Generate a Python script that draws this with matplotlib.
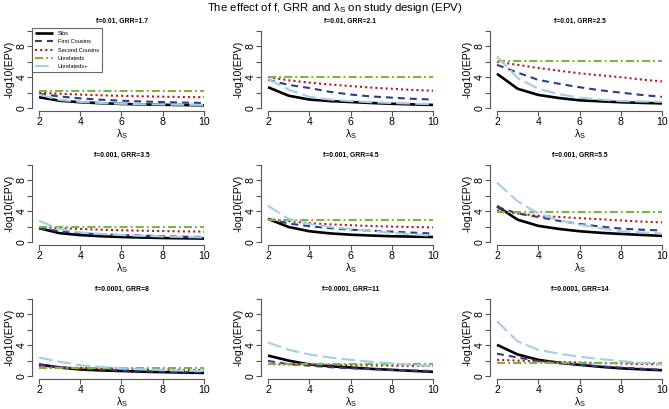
import numpy as np
import matplotlib
matplotlib.use('Agg')
import matplotlib.pyplot as plt

plt.rcParams['font.family'] = ['Liberation Sans', 'DejaVu Sans']
plt.rcParams['lines.scale_dashes'] = False
plt.rcParams['mathtext.fontset'] = 'custom'
plt.rcParams['mathtext.rm'] = 'Liberation Sans'
plt.rcParams['mathtext.it'] = 'Liberation Sans'

lam = [2, 3, 4, 5, 6, 7, 8, 9, 10]

titles = ['f=0.01, GRR=1.7', 'f=0.01, GRR=2.1', 'f=0.01, GRR=2.5',
          'f=0.001, GRR=3.5', 'f=0.001, GRR=4.5', 'f=0.001, GRR=5.5',
          'f=0.0001, GRR=8', 'f=0.0001, GRR=11', 'f=0.0001, GRR=14']

sibs = [
    [1.4, 0.95, 0.75, 0.62, 0.53, 0.47, 0.42, 0.38, 0.35],
    [2.7, 1.6, 1.1, 0.9, 0.78, 0.65, 0.55, 0.47, 0.4],
    [4.45, 2.5, 1.7, 1.3, 1.0, 0.87, 0.75, 0.67, 0.6],
    [1.8, 1.15, 0.9, 0.75, 0.65, 0.58, 0.52, 0.48, 0.45],
    [3.0, 1.95, 1.4, 1.12, 0.95, 0.84, 0.75, 0.7, 0.65],
    [4.65, 2.9, 2.1, 1.7, 1.4, 1.2, 1.05, 0.92, 0.8],
    [1.5, 1.1, 0.85, 0.73, 0.65, 0.56, 0.5, 0.45, 0.4],
    [2.65, 2.0, 1.5, 1.27, 1.1, 0.93, 0.8, 0.67, 0.55],
    [4.05, 2.8, 2.1, 1.72, 1.45, 1.2, 1.0, 0.87, 0.75],
]
first_cousins = [
    [1.85, 1.5, 1.25, 1.08, 0.95, 0.85, 0.77, 0.7, 0.65],
    [3.65, 3.0, 2.6, 2.1, 1.75, 1.5, 1.35, 1.2, 1.1],
    [5.6, 4.6, 3.65, 3.15, 2.7, 2.3, 2.0, 1.7, 1.45],
    [1.8, 1.4, 1.15, 1.0, 0.9, 0.83, 0.77, 0.7, 0.65],
    [3.0, 2.4, 2.05, 1.8, 1.6, 1.47, 1.35, 1.22, 1.1],
    [4.55, 3.7, 3.25, 2.75, 2.35, 2.0, 1.75, 1.6, 1.5],
    [1.45, 1.15, 0.95, 0.82, 0.72, 0.63, 0.57, 0.53, 0.5],
    [1.95, 1.55, 1.35, 1.15, 1.0, 0.9, 0.8, 0.72, 0.65],
    [2.9, 2.4, 1.95, 1.68, 1.45, 1.25, 1.1, 0.95, 0.8],
]
second_cousins = [
    [2.0, 1.85, 1.75, 1.65, 1.58, 1.52, 1.47, 1.43, 1.4],
    [4.0, 3.6, 3.3, 3.05, 2.85, 2.65, 2.5, 2.35, 2.25],
    [6.0, 5.6, 5.2, 4.85, 4.5, 4.25, 4.0, 3.7, 3.45],
    [1.95, 1.8, 1.7, 1.6, 1.53, 1.47, 1.42, 1.38, 1.35],
    [3.0, 2.7, 2.45, 2.3, 2.18, 2.08, 2.0, 1.95, 1.9],
    [4.1, 3.7, 3.4, 3.25, 3.1, 2.95, 2.8, 2.65, 2.55],
    [1.15, 1.1, 1.05, 1.0, 0.95, 0.9, 0.85, 0.8, 0.78],
    [1.55, 1.5, 1.47, 1.44, 1.41, 1.38, 1.35, 1.32, 1.3],
    [2.1, 2.0, 1.9, 1.83, 1.75, 1.68, 1.62, 1.55, 1.5],
]
unrelateds = [
    [2.2] * 9,
    [4.0] * 9,
    [6.1] * 9,
    [1.95] * 9,
    [2.85] * 9,
    [3.85] * 9,
    [1.1] * 9,
    [1.5] * 9,
    [1.7] * 9,
]
unrelateds_plus = [
    [1.75, 1.05, 0.8, 0.65, 0.55, 0.5, 0.45, 0.42, 0.4],
    [3.75, 2.4, 1.45, 1.1, 0.9, 0.75, 0.65, 0.57, 0.5],
    [6.7, 3.9, 2.5, 1.8, 1.35, 1.1, 0.9, 0.85, 0.8],
    [2.75, 1.7, 1.25, 1.05, 0.9, 0.8, 0.72, 0.65, 0.6],
    [4.7, 3.0, 2.35, 1.95, 1.7, 1.45, 1.2, 1.0, 0.8],
    [7.7, 5.3, 3.7, 2.85, 2.25, 1.8, 1.4, 1.25, 1.1],
    [2.4, 1.85, 1.4, 1.18, 1.0, 0.88, 0.78, 0.7, 0.65],
    [4.35, 3.4, 2.8, 2.4, 2.1, 1.85, 1.65, 1.45, 1.3],
    [7.1, 4.5, 3.4, 2.9, 2.5, 2.2, 1.95, 1.7, 1.5],
]

series = [
    ('Sibs', sibs, 'black', 1.9, '-'),
    ('First Cousins', first_cousins, '#2c3d8a', 1.5, (0, (5, 3.6))),
    ('Second Cousins', second_cousins, '#b01c24', 1.5, (0, (1.5, 2.2))),
    ('Unrelateds', unrelateds, '#7ab543', 1.5, (0, (5.8, 2.2, 1.4, 2.2))),
    ('Unrelateds+', unrelateds_plus, '#9fd0e3', 1.5, (0, (10, 3.6))),
]

W, H = 669, 409
fig = plt.figure(figsize=(W / 100, H / 100), dpi=100)

col_x = [32.4, 261.4, 490.4]
row_y = [27.9, 161.9, 295.9]
pw, ph = 178.2, 83.2

for k in range(9):
    r, c = divmod(k, 3)
    ax = fig.add_axes([col_x[c] / W, 1 - (row_y[r] + ph) / H, pw / W, ph / H])
    for name, data, col, lw, ls in series:
        ax.plot(lam, data[k], color=col, lw=lw, linestyle=ls, label=name,
                solid_capstyle='butt')
    ax.set_xlim(2 - 0.32, 10 + 0.32)
    ax.set_ylim(-0.4, 10.4)
    for s in ['top', 'right']:
        ax.spines[s].set_visible(False)
    ax.spines['left'].set_bounds(0, 10)
    ax.spines['bottom'].set_bounds(2, 10)
    for s in ['left', 'bottom']:
        ax.spines[s].set_color('#555555')
        ax.spines[s].set_linewidth(0.8)
    ax.set_xticks([2, 4, 6, 8, 10])
    ax.set_yticks([0, 2, 4, 6, 8, 10])
    ax.set_yticklabels(['0', '', '4', '', '8', ''], rotation=90, va='center')
    ax.tick_params(length=3.5, width=0.8, color='#555555', labelsize=7.6, pad=0.6)
    ax.set_xlabel(r'$\lambda_S$', fontsize=7.6, va='center')
    ax.xaxis.set_label_coords(0.5, -0.275)
    ax.set_ylabel('-log10(EPV)', fontsize=7.6, va='center')
    ax.yaxis.set_label_coords(-0.128, 0.5)
    ax.set_title(titles[k], fontsize=4.9, fontweight='bold', pad=3.5)
    if k == 0:
        leg = ax.legend(loc='upper left', bbox_to_anchor=(0, 1), fontsize=4.1,
                        frameon=True, fancybox=False, borderaxespad=0,
                        handlelength=3.2, labelspacing=0.6, borderpad=0.5,
                        handletextpad=0.8)
        leg.get_frame().set_edgecolor('#444444')
        leg.get_frame().set_linewidth(0.8)

fig.text(0.5, 1 - 8 / H, r'The effect of f, GRR and $\lambda_S$ on study design (EPV)',
         ha='center', va='center', fontsize=8.2)

fig.savefig('out.png', dpi=100)
